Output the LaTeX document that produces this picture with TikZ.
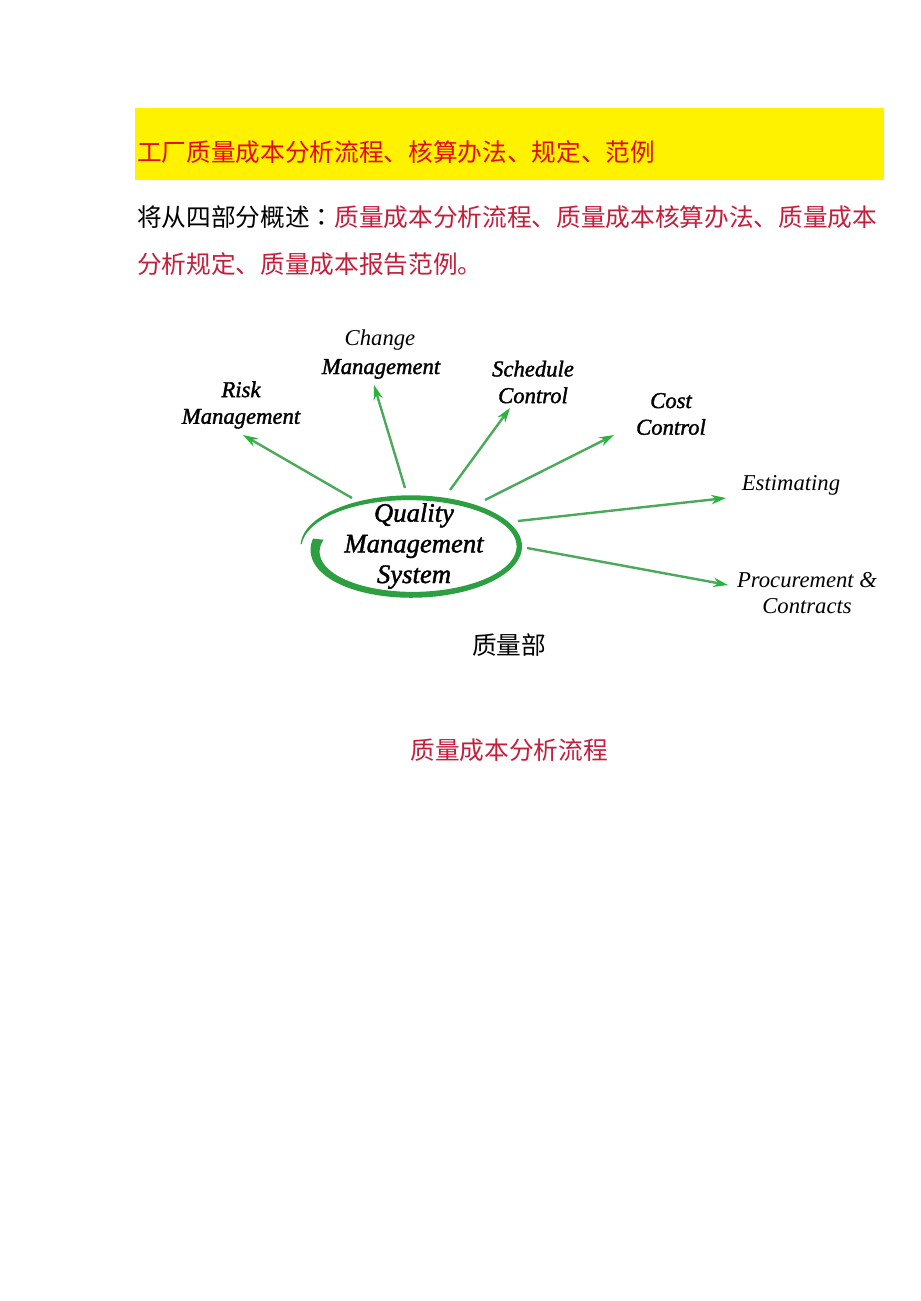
\documentclass[tikz,border=0pt]{standalone}
\usepackage{fontspec}
\setmainfont{Liberation Serif}
\newfontfamily\cjk{Noto Sans CJK SC}
\newfontfamily\cjktc{Noto Sans CJK TC}
\newfontfamily\labf{Liberation Serif}
\newfontfamily\labfb{Liberation Serif}[FakeBold=1.5]
\usetikzlibrary{arrows.meta}
\definecolor{titlered}{RGB}{228,10,20}
\definecolor{bodyred}{RGB}{196,30,58}
\definecolor{qgreen}{RGB}{44,160,64}
\definecolor{agreen}{RGB}{75,170,90}
\definecolor{hgreen}{RGB}{40,180,60}
\begin{document}
\begin{tikzpicture}[x=0.75pt,y=-0.75pt,
  cjktext/.style={inner sep=0pt,font=\cjk\fontsize{18.5}{22}\selectfont},
  lab/.style={inner sep=0pt,align=center,font=\labf\itshape\fontsize{17}{20}\selectfont},
  labb/.style={inner sep=0pt,align=center,font=\labfb\itshape\fontsize{17}{20}\selectfont},
  arr/.style={draw=agreen,line width=1.8pt,-{Stealth[length=11pt,width=7pt,color=hgreen,fill=hgreen]}},
  declare function={th(\s)=177-367*\s; rxc(\s)=110-2*\s-14*\s^4; ryc(\s)=50-3*\s; ww(\s)=1+4.5*(1-exp(-8*\s))+5*\s^8;}
]
\useasboundingbox (0,0) rectangle (920,1301);
\fill[white] (0,0) rectangle (920,1301);
% title band
\fill[yellow] (135,108) rectangle (884,180);
\node[cjktext,anchor=west,text=titlered] (title) at (137,152) {工厂质量成本分析流程、核算办法、规定、范例};
\node[cjktext,anchor=west] (intro1) at (137,217) {{\color{black}将从四部分概述{\cjktc ：}}\color{bodyred}质量成本分析流程、质量成本核算办法、质量成本};
\node[cjktext,anchor=west,text=bodyred] (intro2) at (137,264) {分析规定、质量成本报告范例。};
% spiral ellipse
\fill[qgreen] plot[domain=0:1,samples=150,smooth] ({411+(rxc(\x)+ww(\x)/2)*cos(th(\x))},{547-(ryc(\x)+ww(\x)/2)*sin(th(\x))})
  -- plot[domain=1:0,samples=150,smooth] ({411+(rxc(\x)-ww(\x)/2)*cos(th(\x))},{547-(ryc(\x)-ww(\x)/2)*sin(th(\x))}) -- cycle;
\node[labb,font=\labfb\itshape\fontsize{20}{23}\selectfont] (qms) at (414,546) {Quality\\Management\\System};
% labels
\node[labb] (risk) at (241,405) {Risk\\Management};
\node[lab,anchor=south] (change1) at (380,351) {Change};
\node[labb] (change2) at (381,369) {Management};
\node[labb] (sched) at (533,382) {Schedule\\Control};
\node[labb] (cost) at (671,414) {Cost\\Control};
\node[lab] (est) at (791,485) {Estimating};
\node[lab] (proc) at (807,593) {Procurement \&\\Contracts};
% arrow end points
\coordinate (s1) at (352,498); \coordinate (t1) at (243,435);
\coordinate (s2) at (405,488); \coordinate (t2) at (374,385);
\coordinate (s3) at (450,490); \coordinate (t3) at (510,408);
\coordinate (s4) at (485,500); \coordinate (t4) at (614,435);
\coordinate (s5) at (518,521); \coordinate (t5) at (726,498);
\coordinate (s6) at (527,548); \coordinate (t6) at (728,585);
\draw[arr] (s1) -- (t1);
\draw[arr] (s2) -- (t2);
\draw[arr] (s3) -- (t3);
\draw[arr] (s4) -- (t4);
\draw[arr] (s5) -- (t5);
\draw[arr] (s6) -- (t6);
% captions
\node[cjktext] (dept) at (509,645) {质量部};
\node[cjktext,text=bodyred] (sec) at (509,750) {质量成本分析流程};
\end{tikzpicture}
\end{document}
